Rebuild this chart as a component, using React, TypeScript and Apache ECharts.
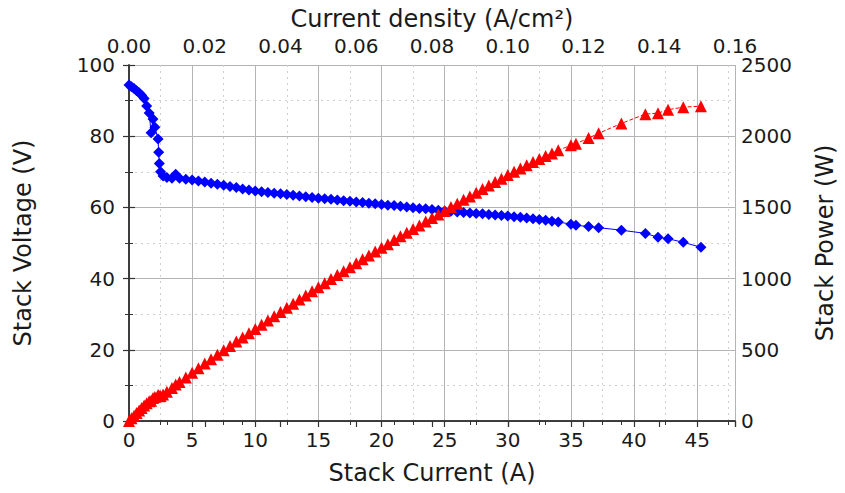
import React, { useEffect, useRef } from "react";
import * as echarts from "echarts";

const current: number[] = [
  0.0, 0.2, 0.4, 0.6, 0.8, 1.0, 1.2, 1.4, 1.6, 1.75, 1.9, 2.05, 2.3, 2.35, 2.4, 2.5, 2.7, 3.0, 3.4, 3.7, 4.0, 4.5,
  5.0, 5.5, 6.0, 6.5, 7.0, 7.5, 8.0, 8.5, 9.0, 9.5, 10.0, 10.5, 11.0, 11.5, 12.0, 12.5, 13.0, 13.5, 14.0, 14.5,
  15.0, 15.5, 16.0, 16.5, 17.0, 17.5, 18.0, 18.5, 19.0, 19.5, 20.0, 20.5, 21.0, 21.5, 22.0, 22.5, 23.0, 23.5,
  24.0, 24.5, 25.0, 25.5, 26.0, 26.5, 27.0, 27.5, 28.0, 28.5, 29.0, 29.5, 30.0,
  30.5, 31.0, 31.5, 32.0, 32.5, 33.0, 33.5, 34.0, 35.0, 35.4, 36.4, 37.2, 39.0, 40.9, 41.9, 42.7, 43.9, 45.3,
];

const voltage: number[] = [
  94.4, 93.9, 93.4, 92.8, 92.2, 91.5, 90.6, 88.5, 86.5, 81.0, 84.8, 82.5, 79.2, 75.5, 72.3, 70.0, 68.8, 68.4, 68.2, 69.3, 68.2, 67.9,
  67.7, 67.4, 67.1, 66.8, 66.5, 66.2, 65.9, 65.6, 65.2, 64.9, 64.6, 64.4, 64.2, 64.0, 63.8, 63.6, 63.4, 63.2, 63.0, 62.8,
  62.6, 62.4, 62.3, 62.1, 61.9, 61.7, 61.5, 61.4, 61.2, 61.0, 60.8, 60.6, 60.5, 60.3, 60.1, 59.9, 59.7, 59.6,
  59.4, 59.2, 59.0, 58.9, 58.7, 58.6, 58.4, 58.3, 58.2, 58.0, 57.9, 57.7, 57.6,
  57.4, 57.2, 57.0, 56.8, 56.6, 56.4, 56.1, 55.9, 55.3, 55.0, 54.6, 54.3, 53.6, 52.7, 51.6, 51.2, 50.2, 48.8,
];

const power: number[] = [
  0, 19, 37, 56, 74, 92, 109, 124, 138, 142, 161, 169, 182, 177, 174, 175, 186, 205, 232, 256, 273, 306,
  339, 371, 403, 434, 466, 497, 527, 558, 587, 617, 646, 676, 706, 736, 766, 795, 824, 853, 882, 911,
  939, 967, 997, 1025, 1052, 1080, 1107, 1136, 1163, 1190, 1216, 1242, 1271, 1297, 1322, 1348, 1373, 1401,
  1426, 1450, 1475, 1502, 1526, 1553, 1577, 1603, 1630, 1653, 1679, 1702, 1728,
  1751, 1773, 1796, 1818, 1840, 1861, 1879, 1901, 1936, 1947, 1987, 2020, 2090, 2155, 2162, 2186, 2204, 2211,
];

const xTicks = { min: 0, max: 48, interval: 5 };
const topTicks = { min: 0, max: 0.16, interval: 0.02 };
const voltTicks = { min: 0, max: 100, interval: 20 };
const powerTicks = { min: 0, max: 2500, interval: 500 };

const FONT = "DejaVu Sans";
const TXT = "#1a1a1a";

export default function App() {
  const ref = useRef<HTMLDivElement>(null);
  useEffect(() => {
    if (!ref.current) return;
    const chart = echarts.init(ref.current, undefined, { renderer: "svg" });
    const axisLine = { show: true, lineStyle: { color: "#333", width: 1.5 } };
    const label = { color: TXT, fontFamily: FONT, fontSize: 20 };
    const nameStyle = { color: TXT, fontFamily: FONT, fontSize: 24 };
    const grid = { color: "#b4b4b4", width: 1 };
    const minorGrid = { color: "#cfcfcf", width: 1, type: [2, 4] as any };
    const tick = { show: true, length: 6, lineStyle: { color: "#333", width: 1.2 } };
    const minor = { show: true, splitNumber: 2, length: 4, lineStyle: { color: "#333" } };
    chart.setOption({
      animation: false,
      backgroundColor: "#ffffff",
      grid: { left: 129, right: 107, top: 65, bottom: 72, containLabel: false },
      xAxis: [
        {
          type: "value",
          position: "bottom",
          ...xTicks,
          name: "Stack Current (A)",
          nameLocation: "middle",
          nameGap: 40,
          nameTextStyle: nameStyle,
          axisLine,
          axisTick: tick,
          minorTick: minor,
          axisLabel: {
            ...label,
            margin: 9,
            formatter: (v: number) => (v % 5 === 0 ? String(v) : ""),
          },
          splitLine: { show: true, lineStyle: grid },
          minorSplitLine: { show: true, lineStyle: minorGrid },
        },
        {
          type: "value",
          position: "top",
          ...topTicks,
          name: "Current density (A/cm²)",
          nameLocation: "middle",
          nameGap: 34,
          nameTextStyle: nameStyle,
          axisLine,
          axisTick: { ...tick, inside: true },
          minorTick: minor,
          axisLabel: { ...label, margin: 9, formatter: (v: number) => v.toFixed(2) },
          splitLine: { show: false },
        },
      ],
      yAxis: [
        {
          type: "value",
          position: "left",
          ...voltTicks,
          name: "Stack Voltage (V)",
          nameLocation: "middle",
          nameGap: 94,
          nameRotate: 90,
          nameTextStyle: nameStyle,
          axisLine,
          axisTick: tick,
          minorTick: minor,
          axisLabel: { ...label, margin: 14 },
          splitLine: { show: true, lineStyle: grid },
          minorSplitLine: { show: true, lineStyle: minorGrid },
        },
        {
          type: "value",
          position: "right",
          ...powerTicks,
          name: "Stack Power (W)",
          nameLocation: "middle",
          nameGap: 78,
          nameRotate: 90,
          nameTextStyle: nameStyle,
          axisLine,
          axisTick: tick,
          minorTick: minor,
          axisLabel: { ...label, margin: 6, formatter: (v: number) => String(v) },
          splitLine: { show: false },
        },
      ],
      series: [
        {
          name: "Stack Voltage",
          type: "line",
          xAxisIndex: 0,
          yAxisIndex: 0,
          data: current.map((c, i) => [c, voltage[i]]),
          symbol: "diamond",
          symbolSize: 11,
          itemStyle: { color: "#0000ff" },
          lineStyle: { color: "#0000ff", width: 1 },
          z: 3,
        },
        {
          name: "Stack Power",
          type: "line",
          xAxisIndex: 0,
          yAxisIndex: 1,
          data: current.map((c, i) => [c, power[i]]),
          symbol: "triangle",
          symbolSize: 12,
          itemStyle: { color: "#ff0000" },
          lineStyle: { color: "#ff0000", width: 1, type: "dashed" },
          z: 4,
        },
      ],
    });
    return () => chart.dispose();
  }, []);
  return (
    <div
      ref={ref}
      style={{ position: "fixed", left: 0, top: 0, width: 845, height: 493, background: "#fff" }}
    />
  );
}
